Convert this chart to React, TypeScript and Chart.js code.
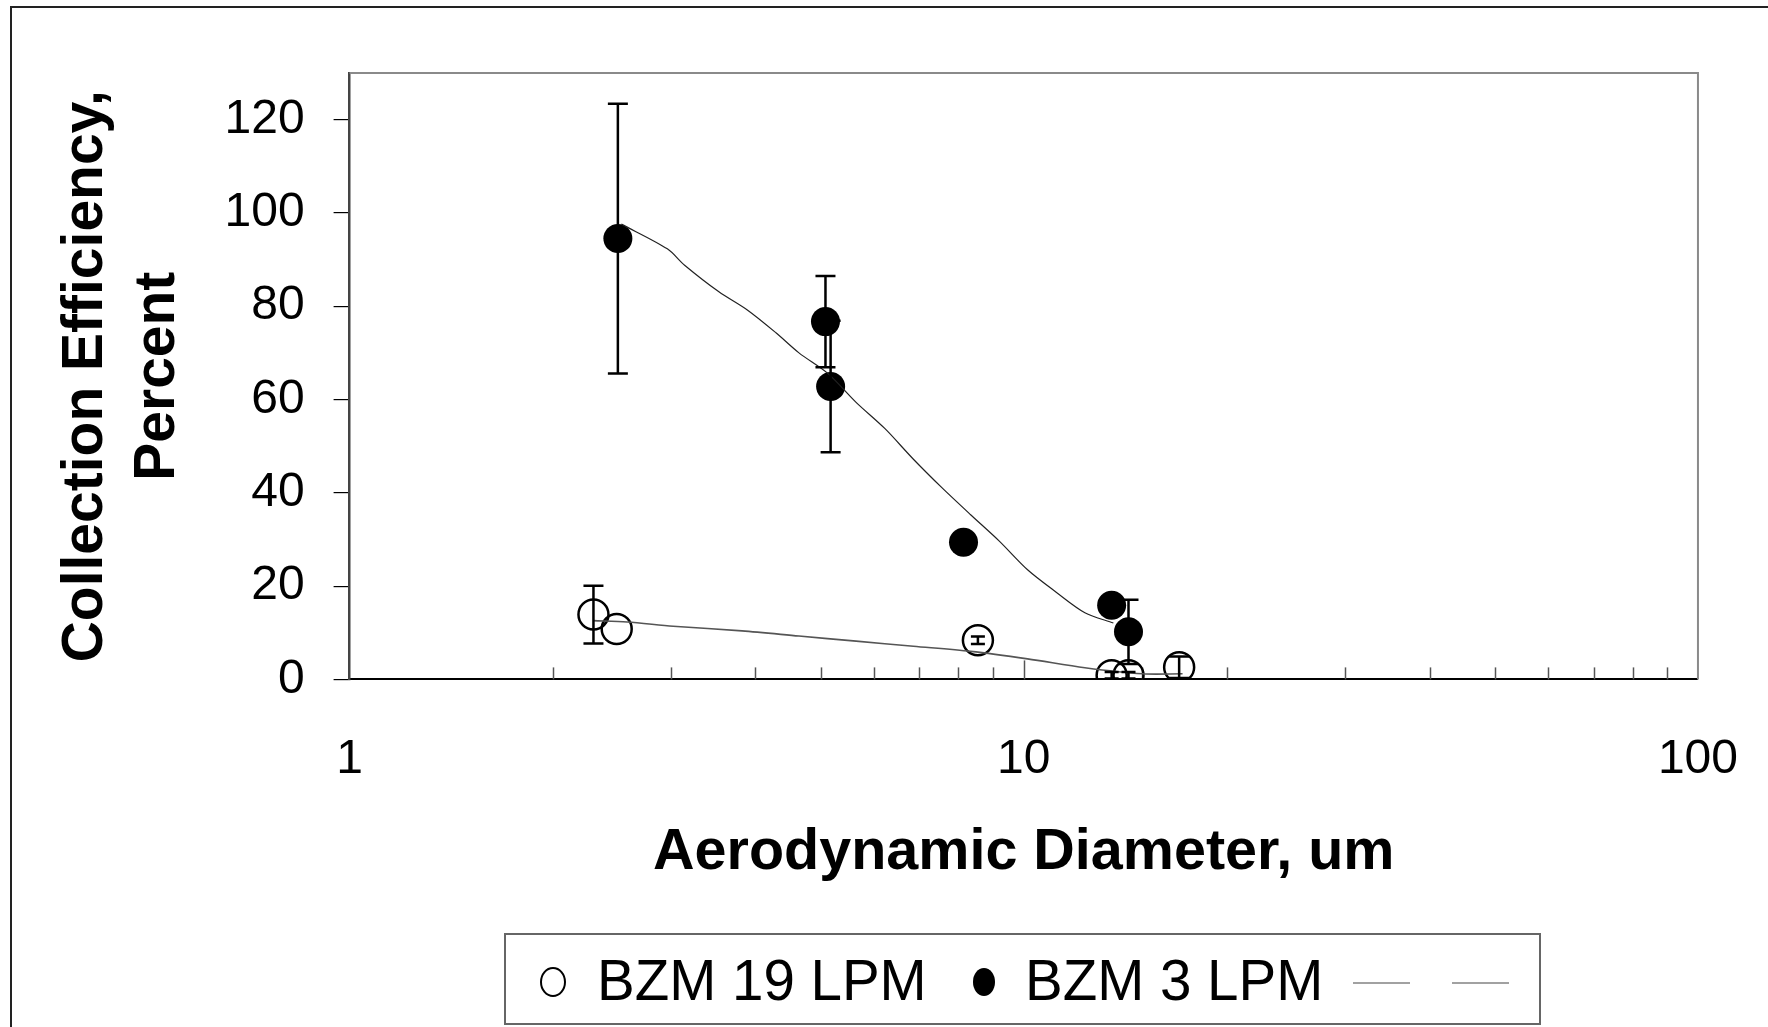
import React, { useEffect, useRef } from 'react';
import { Chart, registerables } from 'chart.js';

Chart.register(...registerables);

// ---------- data ----------
const SERIES_NAMES = ['BZM 19 LPM', 'BZM 3 LPM'];

const OPEN_D = [2.3, 2.49, 8.55, 13.5, 14.3, 17.0];
const OPEN_V = [13.9, 10.8, 8.4, 0.9, 0.9, 2.6];
const OPEN_ERR = [6.2, 0, 0.8, 0.7, 0.7, 2.3];

const FILLED_D = [2.5, 5.08, 5.17, 8.14, 13.5, 14.3];
const FILLED_V = [94.5, 76.7, 62.8, 29.4, 15.9, 10.2];
const FILLED_ERR = [28.9, 9.8, 14.1, 1.5, 0, 6.9];

const FIT_HIGH_D = [2.53, 2.96, 3.14, 3.53, 3.89, 4.29, 4.64, 5.12, 5.64, 6.22, 6.86, 7.56, 8.34, 9.19, 10.13, 11.17, 12.32, 13.58];
const FIT_HIGH_V = [97.6, 92.3, 88.8, 83.1, 79.2, 74.3, 70.0, 65.6, 59.4, 53.8, 47.2, 41.1, 35.3, 29.7, 23.5, 18.7, 14.3, 12.1];

const FIT_LOW_D = [2.3, 2.58, 3.02, 3.82, 4.64, 5.64, 6.86, 8.34, 10.13, 12.32, 15.0, 17.2];
const FIT_LOW_V = [12.6, 12.3, 11.4, 10.4, 9.3, 8.2, 7.1, 6.0, 4.4, 2.5, 1.2, 1.2];

const X_LABELED = [1, 10, 100];
const Y_MIN = 0;
const Y_MAX = 130;
const Y_STEP = 20;

const X_TITLE = 'Aerodynamic Diameter, um';
const Y_TITLE = ['Collection Efficiency,', 'Percent'];

const FONT = "'Liberation Sans', Arial, Helvetica, sans-serif";

const toPts = (xs: number[], ys: number[]) => xs.map((x, i) => ({ x, y: ys[i] }));

// ---------- plugins ----------
const framePlugin = {
  id: 'frames',
  beforeDraw(chart: any) {
    const ctx = chart.ctx;
    ctx.save();
    ctx.fillStyle = '#fff';
    ctx.fillRect(0, 0, chart.width, chart.height);
    ctx.strokeStyle = '#222';
    ctx.lineWidth = 2;
    ctx.strokeRect(11, 7, chart.width + 50, chart.height + 50);
    ctx.restore();
  },
  beforeDatasetsDraw(chart: any) {
    const { ctx, chartArea: a } = chart;
    ctx.save();
    ctx.strokeStyle = '#8a8a8a';
    ctx.lineWidth = 2;
    ctx.beginPath();
    ctx.moveTo(a.left, a.top);
    ctx.lineTo(a.right, a.top);
    ctx.lineTo(a.right, a.bottom);
    ctx.stroke();
    // inner minor ticks on the log axis
    const xs = chart.scales.x;
    ctx.strokeStyle = '#555';
    ctx.lineWidth = 1.5;
    xs.ticks.forEach((t: any) => {
      const v = t.value;
      if (v <= 1 || v >= 100) return;
      const px = xs.getPixelForValue(v);
      const major = Math.abs(Math.log10(v) - Math.round(Math.log10(v))) < 1e-9;
      const len = major ? 19 : 12;
      ctx.beginPath();
      ctx.moveTo(Math.round(px) + 0.5, a.bottom);
      ctx.lineTo(Math.round(px) + 0.5, a.bottom - len);
      ctx.stroke();
    });
    ctx.restore();
  },
};

const errorBarPlugin = {
  id: 'errorBars',
  afterDatasetsDraw(chart: any) {
    const { ctx } = chart;
    const ys = chart.scales.y;
    ctx.save();
    ctx.strokeStyle = '#000';
    ctx.lineWidth = 2.5;
    chart.data.datasets.forEach((ds: any, di: number) => {
      if (!ds.errorBars) return;
      const meta = chart.getDatasetMeta(di);
      ds.data.forEach((p: any, i: number) => {
        const e = ds.errorBars[i];
        if (!e) return;
        const x = meta.data[i].x;
        const yt = ys.getPixelForValue(p.y + e);
        const yb = ys.getPixelForValue(Math.max(p.y - e, 0));
        const cap = e < 1 ? 7 : 10;
        ctx.beginPath();
        ctx.moveTo(x, yt);
        ctx.lineTo(x, yb);
        ctx.moveTo(x - cap, yt);
        ctx.lineTo(x + cap, yt);
        ctx.moveTo(x - cap, yb);
        ctx.lineTo(x + cap, yb);
        ctx.stroke();
      });
    });
    ctx.restore();
  },
};

const legendPlugin = {
  id: 'boxLegend',
  afterDraw(chart: any) {
    const { ctx } = chart;
    const ds = chart.data.datasets;
    ctx.save();
    ctx.strokeStyle = '#666';
    ctx.lineWidth = 2;
    ctx.strokeRect(505, 934, 1035, 90);
    const cy = 982;
    // open marker
    ctx.lineWidth = 2;
    ctx.strokeStyle = ds[2].borderColor;
    ctx.fillStyle = '#fff';
    ctx.beginPath();
    ctx.ellipse(553, cy, 12, 14, 0, 0, Math.PI * 2);
    ctx.fill();
    ctx.stroke();
    // filled marker
    ctx.fillStyle = ds[3].backgroundColor;
    ctx.beginPath();
    ctx.ellipse(984, cy, 11, 14, 0, 0, Math.PI * 2);
    ctx.fill();
    ctx.fillStyle = '#000';
    ctx.font = `56.5px ${FONT}`;
    ctx.textBaseline = 'middle';
    ctx.textAlign = 'left';
    ctx.fillText(ds[2].label, 597, cy + 2);
    ctx.fillText(ds[3].label, 1025, cy + 2);
    ctx.strokeStyle = '#444';
    ctx.lineWidth = 1.2;
    ctx.beginPath();
    ctx.moveTo(1353, cy + 1);
    ctx.lineTo(1410, cy + 1);
    ctx.moveTo(1452, cy + 1);
    ctx.lineTo(1509, cy + 1);
    ctx.stroke();
    ctx.restore();
  },
};

export default function App() {
  const ref = useRef<HTMLCanvasElement | null>(null);

  useEffect(() => {
    if (!ref.current) return;
    Chart.defaults.font.family = FONT;
    Chart.defaults.color = '#000';
    const chart = new Chart(ref.current, {
      type: 'scatter',
      data: {
        datasets: [
          {
            label: '',
            data: toPts(FIT_HIGH_D, FIT_HIGH_V),
            showLine: true,
            borderColor: '#222',
            borderWidth: 1.2,
            pointRadius: 0,
            tension: 0.3,
            order: 0,
          } as any,
          {
            label: '',
            data: toPts(FIT_LOW_D, FIT_LOW_V),
            showLine: true,
            borderColor: '#555',
            borderWidth: 1.6,
            pointRadius: 0,
            tension: 0.3,
            order: 0,
          } as any,
          {
            label: SERIES_NAMES[0],
            data: toPts(OPEN_D, OPEN_V),
            errorBars: OPEN_ERR,
            pointStyle: 'circle',
            pointRadius: 15,
            borderColor: '#000',
            backgroundColor: 'rgba(255,255,255,0)',
            borderWidth: 2.5,
            order: 1,
          } as any,
          {
            label: SERIES_NAMES[1],
            data: toPts(FILLED_D, FILLED_V),
            errorBars: FILLED_ERR,
            pointStyle: 'circle',
            pointRadius: 14.5,
            borderColor: '#000',
            backgroundColor: '#000',
            borderWidth: 0,
            order: 1,
          } as any,
        ],
      },
      options: {
        animation: false,
        responsive: false,
        maintainAspectRatio: false,
        layout: { padding: { left: 20, right: 69, top: 73, bottom: 139 } },
        plugins: {
          legend: { display: false },
          tooltip: { enabled: false },
        },
        scales: {
          x: {
            type: 'logarithmic',
            min: 1,
            max: 100,
            border: { display: true, color: '#000', width: 2 },
            grid: { display: true, drawOnChartArea: false, drawTicks: true, tickLength: 22, color: 'rgba(0,0,0,0)' },
            ticks: {
              autoSkip: false,
              maxRotation: 0,
              minRotation: 0,
              padding: 30,
              font: { size: 48, family: FONT },
              color: '#000',
              callback: (v: any) => (X_LABELED.includes(Number(v)) ? String(v) : ''),
            },
            title: {
              display: true,
              text: X_TITLE,
              font: { size: 57.5, weight: 'bold', family: FONT },
              color: '#000',
              padding: { top: 0, bottom: 0 },
            },
          },
          y: {
            type: 'linear',
            min: Y_MIN,
            max: Y_MAX,
            border: { display: true, color: '#444', width: 2.5 },
            grid: { drawOnChartArea: false, drawTicks: true, tickLength: 16, color: '#000', lineWidth: 1.2 },
            ticks: {
              stepSize: Y_STEP,
              includeBounds: false,
              padding: 29,
              font: { size: 48, family: FONT },
              color: '#000',
            },
            title: {
              display: true,
              text: Y_TITLE,
              font: { size: 57, weight: 'bold', family: FONT, lineHeight: 1.25 },
              color: '#000',
              padding: { top: 31, bottom: 2 },
            },
          },
        },
      } as any,
      plugins: [framePlugin, errorBarPlugin, legendPlugin],
    });
    return () => chart.destroy();
  }, []);

  return (
    <div style={{ position: 'fixed', left: 0, top: 0, width: 1768, height: 1027, background: '#fff' }}>
      <canvas ref={ref} width={1768} height={1027} style={{ display: 'block' }} />
    </div>
  );
}
